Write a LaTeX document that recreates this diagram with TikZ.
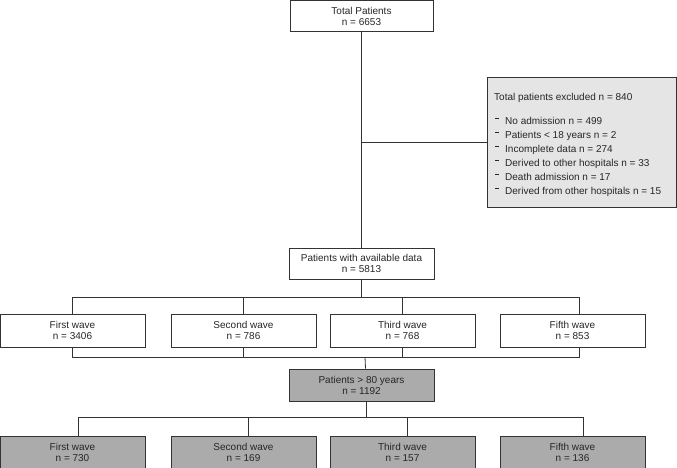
\documentclass[tikz,border=0pt]{standalone}
\usepackage{fontspec}
\setmainfont{Liberation Sans}
\definecolor{lineclr}{gray}{0.2}
\definecolor{darkfill}{gray}{0.67}
\definecolor{lightfill}{gray}{0.9}
\tikzset{
  flowbox/.style={draw=lineclr, line width=0.8pt, rectangle, minimum width=145, minimum height=32,
    inner sep=0pt, align=center, font=\fontsize{10}{11}\selectfont, text=black!85},
  graybox/.style={flowbox, fill=darkfill},
  exclbox/.style={draw=lineclr, line width=0.8pt, rectangle, fill=lightfill, minimum width=189, minimum height=130, inner sep=0pt},
  conn/.style={draw=lineclr, line width=0.8pt}
}
\newcommand{\dashitem}{\makebox[11pt][l]{\hspace{1pt}\raisebox{6pt}{\rule{3.5pt}{0.8pt}}}}
\begin{document}
\begin{tikzpicture}[x=1pt,y=-1pt]
\useasboundingbox (0,0) rectangle (677,468);
% nodes
\node[flowbox, minimum width=143, minimum height=31] (top) at (361.5,16) {Total Patients\\n = 6653};
\node[exclbox] (excl) at (581.5,142) {};
\node[anchor=north west, align=left, inner sep=0pt, font=\fontsize{10}{14}\selectfont, text=black!85] (excltext) at (494,93)
 {Total patients excluded n = 840\\[10pt]
  \dashitem No admission n = 499\\
  \dashitem Patients < 18 years n = 2\\
  \dashitem Incomplete data n = 274\\
  \dashitem Derived to other hospitals n = 33\\
  \dashitem Death admission n = 17\\
  \dashitem Derived from other hospitals n = 15};
\node[flowbox, minimum height=31] (avail) at (361.5,263.5) {Patients with available data\\n = 5813};
\node[flowbox, minimum height=33] (w1) at (72.5,330.5) {First wave\\n = 3406};
\node[flowbox, minimum height=33] (w2) at (243.5,330.5) {Second wave\\n = 786};
\node[flowbox, minimum height=33] (w3) at (402.5,330.5) {Third wave\\n = 768};
\node[flowbox, minimum height=33] (w4) at (572.5,330.5) {Fifth wave\\n = 853};
\node[graybox] (old) at (361.5,385) {Patients > 80 years\\n = 1192};
\node[graybox] (v1) at (72.5,452) {First wave\\n = 730};
\node[graybox] (v2) at (243.5,452) {Second wave\\n = 169};
\node[graybox] (v3) at (402.5,452) {Third wave\\n = 157};
\node[graybox] (v4) at (572.5,452) {Fifth wave\\n = 136};
% bus coordinates
\coordinate (bus1) at (361.5,297);
\coordinate (bus2) at (365,357);
\coordinate (bus3) at (366,417);
\coordinate (w4t) at ([xshift=6.5]w4.north);
\coordinate (w4b) at ([xshift=6.5]w4.south);
\coordinate (oldt) at ([xshift=4]old.north);
\coordinate (oldb) at ([xshift=4.5]old.south);
\coordinate (v1t) at ([xshift=5.5]v1.north);
\coordinate (v2t) at ([xshift=4.5]v2.north);
\coordinate (v3t) at ([xshift=4.5]v3.north);
\coordinate (v4t) at ([xshift=10.5]v4.north);
% connectors
\draw[conn] (top.south) -- (avail.north);
\draw[conn] (top.south |- excl.west) -- (excl.west);
\draw[conn] (avail.south) -- (bus1);
\draw[conn] (w1.north) -- (w1.north |- bus1) -- (w4t |- bus1) -- (w4t);
\draw[conn] (w2.north |- bus1) -- (w2.north);
\draw[conn] (w3.north |- bus1) -- (w3.north);
\draw[conn] (w1.south) -- (w1.south |- bus2) -- (w4b |- bus2) -- (w4b);
\draw[conn] (w2.south) -- (w2.south |- bus2);
\draw[conn] (w3.south) -- (w3.south |- bus2);
\draw[conn] (bus2) -- (oldt);
\draw[conn] (oldb) -- (oldb |- bus3);
\draw[conn] (v1t) -- (v1t |- bus3) -- (v4t |- bus3) -- (v4t);
\draw[conn] (v2t |- bus3) -- (v2t);
\draw[conn] (v3t |- bus3) -- (v3t);
\end{tikzpicture}
\end{document}
